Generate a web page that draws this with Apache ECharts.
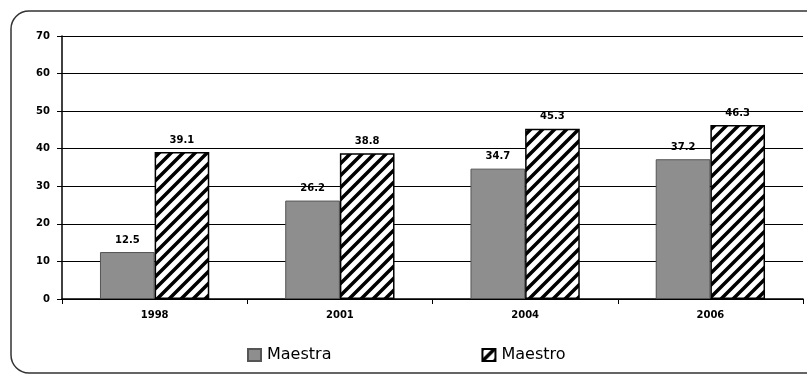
<!DOCTYPE html>
<html>
<head>
<meta charset="utf-8">
<script src="https://cdn.jsdelivr.net/npm/echarts@6/dist/echarts.min.js"></script>
<style>
  html, body { margin: 0; padding: 0; background: #fff; }
  #chart { width: 807px; height: 376px; }
</style>
</head>
<body>
<div id="chart"></div>
<script>
// Survey years and the share for each group
const years = ['1998', '2001', '2004', '2006'];
const maestra = [12.5, 26.2, 34.7, 37.2];
const maestro = [39.1, 38.8, 45.3, 46.3];
const seriesNames = ['Maestra', 'Maestro'];
const yTicks = [0, 10, 20, 30, 40, 50, 60, 70];

// Diagonal black stripes on white for the second series
function stripePattern() {
  const c = document.createElement('canvas');
  const s = 12;
  c.width = s; c.height = s;
  const g = c.getContext('2d');
  g.fillStyle = '#fff';
  g.fillRect(0, 0, s, s);
  g.strokeStyle = '#000';
  g.lineWidth = 3.5;
  g.beginPath();
  for (let k = -1; k <= 1; k++) {
    g.moveTo(k * s - 2, s + 2);
    g.lineTo(k * s + s + 2, -2);
  }
  g.stroke();
  return c;
}

const chart = echarts.init(document.getElementById('chart'), null, { renderer: 'canvas' });
const stripes = { image: stripePattern(), repeat: 'repeat' };
const tickFont = { fontFamily: 'DejaVu Sans', fontWeight: 'bold', fontSize: 10, color: '#000' };

chart.setOption({
  animation: false,
  backgroundColor: '#fff',
  graphic: [{
    type: 'rect',
    shape: { x: 11, y: 11, width: 820, height: 362, r: 18 },
    style: { fill: 'none', stroke: '#333', lineWidth: 1.5 },
    z: -1
  }],
  grid: { left: 62, right: 4, top: 36, bottom: 77 },
  legend: {
    bottom: 8,
    left: 242,
    itemGap: 150,
    itemWidth: 13,
    itemHeight: 12,
    icon: 'rect',
    textStyle: { fontFamily: 'DejaVu Sans', fontSize: 16, color: '#000', padding: [0, 0, 0, 1] },
    data: seriesNames
  },
  xAxis: {
    type: 'category',
    data: years,
    axisLine: { lineStyle: { color: '#000', width: 1.5 } },
    axisTick: { show: true, length: 5, lineStyle: { color: '#000' } },
    axisLabel: Object.assign({ margin: 11 }, tickFont),
    splitLine: { show: false }
  },
  yAxis: {
    type: 'value',
    min: yTicks[0],
    max: yTicks[yTicks.length - 1],
    interval: 10,
    axisLine: { show: true, lineStyle: { color: '#000', width: 1.5 } },
    axisTick: { show: true, length: 5, lineStyle: { color: '#000' } },
    axisLabel: Object.assign({ margin: 12 }, tickFont),
    splitLine: { show: true, lineStyle: { color: '#000', width: 1.2 } }
  },
  series: [
    {
      name: seriesNames[0],
      type: 'bar',
      data: maestra,
      barGap: '0%',
      barCategoryGap: '41%',
      itemStyle: { color: '#8e8e8e', borderColor: '#555', borderWidth: 1 },
      label: { show: true, position: 'top', distance: 7, ...tickFont }
    },
    {
      name: seriesNames[1],
      type: 'bar',
      data: maestro,
      itemStyle: { color: stripes, borderColor: '#000', borderWidth: 1.5 },
      label: { show: true, position: 'top', distance: 7, ...tickFont }
    }
  ]
});
</script>
</body>
</html>
